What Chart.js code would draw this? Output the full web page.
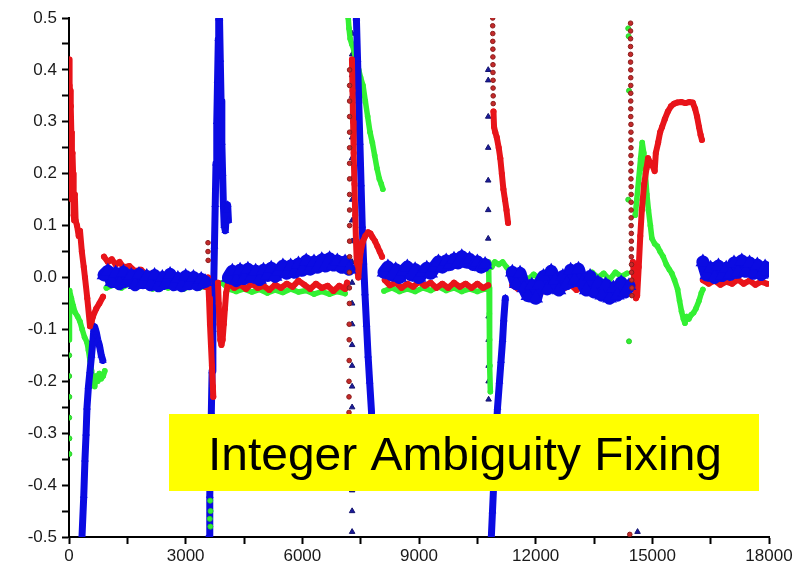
<!DOCTYPE html>
<html>
<head>
<meta charset="utf-8">
<script src="https://cdn.jsdelivr.net/npm/chart.js@4.4.0/dist/chart.umd.min.js"></script>
<style>
  html, body { margin: 0; padding: 0; background: #fff; }
  canvas { display: block; }
</style>
</head>
<body>
<canvas id="ambChart" width="801" height="574"></canvas>
<script>
// Ambiguity residuals (cycles) vs epoch — three satellites

const xTickLabels = [0, 3000, 6000, 9000, 12000, 15000, 18000];
const yTickValues = [-0.5, -0.4, -0.3, -0.2, -0.1, 0, 0.1, 0.2, 0.3, 0.4, 0.5];
const yTickLabels = ['-0.5', '-0.4', '-0.3', '-0.2', '-0.1', '0.0', '0.1', '0.2', '0.3', '0.4', '0.5'];
const boxText = 'Integer Ambiguity Fixing';

// ---- red series ----
const redStart = [[0,0.42],[15,0.37],[30,0.36],[40,0.25],[50,0.33],[60,0.28],[75,0.15],[90,0.24],[105,0.2],[120,0.12],[135,0.11],[150,0.16],[170,0.11],[206,0.1],[250,0.08],[283,0.09],[330,0.05],[380,0.02],[411,0.0],[470,-0.04],[540,-0.094],[580,-0.085],[617,-0.075],[700,-0.06],[780,-0.05],[874,-0.037]];
const redFlat1 = [[900,0.04],[1000,0.03],[1100,0.035],[1200,0.025],[1300,0.03],[1400,0.02],[1550,0.022],[1700,0.012],[1850,0.015],[2000,0.005],[2150,0.008],[2300,0.0],[2450,0.002],[2600,-0.008],[2750,-0.004],[2900,-0.012],[3050,-0.01],[3200,-0.016],[3350,-0.012],[3500,-0.018],[3560,-0.01]];
const redDrop1 = [[3575,0.0],[3600,-0.04],[3625,-0.09],[3650,-0.13],[3675,-0.17],[3700,-0.21],[3710,-0.23]];
const redRise1 = [[3830,-0.01],[3850,-0.05],[3870,-0.09],[3890,-0.12],[3920,-0.13],[3950,-0.12],[3980,-0.09],[4010,-0.06],[4040,-0.03],[4080,-0.015]];
const redFlat2 = [[4100,-0.012],[4250,-0.02],[4400,-0.014],[4550,-0.022],[4700,-0.012],[4850,-0.02],[5000,-0.016],[5150,-0.024],[5300,-0.014],[5450,-0.02],[5600,-0.012],[5750,-0.018],[5900,-0.006],[6050,-0.014],[6200,-0.022],[6350,-0.012],[6500,-0.02],[6650,-0.016],[6800,-0.026],[6950,-0.016],[7100,-0.022],[7150,-0.01]];
const redJump2 = [[7276,0.42],[7290,0.36],[7305,0.3],[7320,0.24],[7340,0.18],[7360,0.12],[7380,0.07],[7400,0.03],[7420,0.01],[7440,0.0],[7470,0.03],[7500,0.05],[7560,0.07],[7620,0.08],[7690,0.087],[7750,0.085],[7800,0.078],[7870,0.07],[7930,0.06],[7990,0.05],[8050,0.04]];
const redFlat3 = [[8120,-0.005],[8250,-0.015],[8400,-0.01],[8550,-0.02],[8700,-0.012],[8850,-0.018],[9000,-0.008],[9150,-0.016],[9300,-0.01],[9450,-0.02],[9600,-0.012],[9750,-0.02],[9900,-0.01],[10050,-0.018],[10200,-0.012],[10350,-0.02],[10500,-0.012],[10650,-0.02],[10780,-0.015]];
const redJump3 = [[10915,0.32],[10930,0.29],[10960,0.28],[11000,0.27],[11050,0.25],[11090,0.23],[11130,0.2],[11170,0.17],[11210,0.15],[11250,0.13],[11290,0.105]];
const redFlat4 = [[11400,-0.015],[11550,-0.022],[11700,-0.012],[11850,-0.025],[12000,-0.018],[12150,-0.028],[12300,-0.016],[12450,-0.022],[12600,-0.012],[12750,-0.02],[12900,-0.014],[13050,-0.024],[13200,-0.016],[13350,-0.022],[13500,-0.015],[13650,-0.025],[13800,-0.018],[13950,-0.026],[14100,-0.02],[14250,-0.028],[14380,-0.02]];
const redJump4 = [[14500,0.03],[14540,-0.01],[14580,-0.04],[14610,-0.035],[14650,0.02],[14690,0.08],[14730,0.13],[14790,0.18],[14850,0.21],[14890,0.23],[14950,0.22],[15010,0.215],[15060,0.205],[15090,0.24],[15150,0.26],[15200,0.28],[15250,0.29],[15320,0.305],[15400,0.32],[15480,0.33],[15560,0.335],[15640,0.337],[15750,0.338],[15850,0.336],[15950,0.338],[16040,0.337],[16100,0.325],[16150,0.31],[16200,0.29],[16240,0.275],[16275,0.265]];
const redFlat5 = [[16300,-0.005],[16450,-0.012],[16600,-0.006],[16750,-0.014],[16900,-0.008],[17050,-0.012],[17200,-0.004],[17350,-0.012],[17500,-0.006],[17650,-0.014],[17800,-0.008],[17950,-0.012]];
// dotted red columns
const redDotsA = [[3574,0.067],[3574,0.05],[3578,0.033]];
const redDotsB = [[7215,0.4],[7215,0.37],[7215,0.34],[7215,0.31],[7215,0.28],[7215,0.25],[7215,0.22],[7215,0.19],[7215,0.16],[7215,0.13],[7215,0.1],[7215,0.07],[7215,0.04],[7210,0.01],[7210,-0.02],[7210,-0.05],[7205,-0.09],[7205,-0.12],[7205,-0.16],[7200,-0.2],[7200,-0.23],[7200,-0.26]];
const redDotsC = [[14440,0.49],[14440,0.475],[14440,0.46],[14440,0.445],[14440,0.43],[14440,0.415],[14445,0.4],[14445,0.385],[14445,0.37],[14445,0.355],[14445,0.34],[14445,0.325],[14445,0.31],[14450,0.295],[14450,0.28],[14450,0.265],[14450,0.25],[14450,0.235],[14450,0.22],[14450,0.205],[14450,0.19],[14455,0.175],[14455,0.16],[14455,0.145],[14455,0.13],[14455,0.115],[14455,0.1],[14460,0.085],[14460,0.07],[14460,0.055],[14460,0.04],[14465,0.025],[14465,0.01],[14470,-0.005],[14475,-0.02],[14475,-0.035],[14420,-0.495]];
const redDotsD = [[10895,0.5],[10895,0.485],[10897,0.47],[10897,0.455],[10900,0.44],[10900,0.425],[10902,0.41],[10902,0.395],[10905,0.38],[10905,0.365],[10908,0.35],[10908,0.335]];

// ---- green series ----
const greenStart = [[5,-0.12],[10,-0.07],[15,-0.025],[60,-0.04],[110,-0.055],[154,-0.067],[220,-0.075],[283,-0.085],[340,-0.1],[400,-0.115],[463,-0.125],[500,-0.14],[540,-0.16],[580,-0.18],[617,-0.2],[660,-0.21],[700,-0.19],[740,-0.2],[780,-0.185],[830,-0.195],[880,-0.19],[920,-0.18]];
const greenFlat1 = [[960,-0.02],[1150,-0.014],[1350,-0.02],[1550,-0.012],[1750,-0.018],[1950,-0.014],[2150,-0.022],[2350,-0.015],[2550,-0.02],[2750,-0.013],[2950,-0.022],[3150,-0.016],[3350,-0.02],[3550,-0.015]];
const greenFlat2 = [[3940,-0.01],[4100,-0.022],[4300,-0.027],[4500,-0.022],[4700,-0.028],[4900,-0.023],[5100,-0.03],[5300,-0.024],[5500,-0.029],[5700,-0.022],[5900,-0.028],[6100,-0.025],[6300,-0.032],[6500,-0.027],[6700,-0.032],[6900,-0.027],[7100,-0.031]];
const greenJump2 = [[7180,0.5],[7200,0.48],[7230,0.46],[7270,0.45],[7320,0.44],[7400,0.41],[7450,0.4],[7500,0.385],[7560,0.37],[7620,0.34],[7680,0.31],[7740,0.28],[7800,0.26],[7860,0.235],[7920,0.21],[7980,0.19],[8030,0.18],[8070,0.17]];
const greenFlat3 = [[8100,-0.026],[8300,-0.02],[8500,-0.027],[8700,-0.022],[8900,-0.027],[9100,-0.02],[9300,-0.025],[9500,-0.018],[9700,-0.025],[9900,-0.02],[10100,-0.027],[10300,-0.022],[10500,-0.027],[10700,-0.022]];
const greenDrop3 = [[10790,0.03],[10800,-0.02],[10810,-0.07],[10815,-0.12],[10825,-0.17],[10835,-0.22]];
const greenFlat4 = [[10870,0.02],[10950,0.03],[11050,0.025],[11150,0.03],[11250,0.02],[11350,0.01],[11500,0.0],[11650,0.008],[11800,-0.004],[11950,0.006],[12100,-0.002],[12250,0.01],[12400,-0.002],[12550,0.006],[12700,0.0],[12850,0.01],[13000,-0.004],[13150,0.006],[13300,-0.002],[13450,0.01],[13600,0.0],[13750,0.008],[13900,-0.004],[14050,0.01],[14200,0.002],[14350,0.008]];
const greenJump4 = [[14560,0.12],[14600,0.15],[14650,0.19],[14700,0.23],[14740,0.26],[14780,0.24],[14820,0.2],[14860,0.16],[14900,0.13],[14950,0.1],[14990,0.075],[15060,0.065],[15130,0.06],[15200,0.05],[15280,0.04],[15360,0.025],[15440,0.015],[15500,0.008],[15570,-0.005],[15650,-0.023],[15700,-0.045],[15750,-0.065],[15800,-0.08],[15840,-0.088],[15880,-0.075],[15940,-0.08],[16000,-0.072],[16060,-0.068],[16120,-0.06],[16200,-0.045],[16260,-0.03],[16300,-0.023]];
const greenDots = [[5,-0.15],[5,-0.19],[8,-0.23],[5,-0.27],[10,-0.31],[10,-0.34],[3630,-0.43],[3640,-0.45],[3620,-0.465],[3635,-0.48],[14380,0.48],[14390,0.465],[14400,0.36],[14380,0.15],[14400,-0.123]];

// ---- blue series ----
const blueStart = [[334,-0.5],[380,-0.42],[411,-0.35],[440,-0.3],[463,-0.25],[500,-0.21],[540,-0.18],[580,-0.15],[617,-0.12],[640,-0.1],[660,-0.095],[700,-0.105],[740,-0.12],[780,-0.13],[830,-0.15],[870,-0.16]];
const blueFlat1 = [[900,0.005],[1000,0.012],[1100,-0.008],[1200,0.008],[1300,-0.012],[1400,0.01],[1500,-0.006],[1600,0.004],[1700,-0.014],[1800,0.006],[1900,-0.01],[2000,0.002],[2100,-0.014],[2200,0.004],[2300,-0.016],[2400,0.0],[2500,-0.01],[2600,0.006],[2700,-0.014],[2800,-0.002],[2900,-0.016],[3000,0.002],[3100,-0.012],[3200,0.0],[3300,-0.014],[3400,-0.004],[3500,-0.008]];
const blueUp1 = [[3600,-0.5],[3620,-0.42],[3640,-0.34],[3660,-0.26],[3680,-0.18],[3700,-0.1],[3720,-0.02],[3740,0.06],[3760,0.14],[3780,0.22],[3800,0.3],[3820,0.38],[3840,0.46],[3850,0.5]];
const blueDown1 = [[3870,0.5],[3890,0.42],[3910,0.34],[3930,0.26],[3950,0.2],[3970,0.14],[3990,0.1],[4020,0.09],[4050,0.13],[4080,0.14],[4100,0.11]];
const blueFlat2 = [[4100,0.0],[4200,0.012],[4300,-0.006],[4400,0.014],[4500,-0.002],[4600,0.016],[4700,0.002],[4800,0.012],[4900,-0.004],[5000,0.014],[5100,0.004],[5200,0.018],[5300,0.002],[5400,0.012],[5500,0.022],[5600,0.008],[5700,0.022],[5800,0.01],[5900,0.026],[6000,0.014],[6100,0.032],[6200,0.016],[6300,0.03],[6400,0.02],[6500,0.034],[6600,0.022],[6700,0.036],[6800,0.024],[6900,0.032],[7000,0.02],[7100,0.03],[7200,0.016]];
const blueDown2 = [[7390,0.5],[7420,0.42],[7450,0.34],[7480,0.26],[7510,0.18],[7540,0.1],[7575,0.03],[7610,-0.03],[7650,-0.09],[7690,-0.15],[7730,-0.2],[7780,-0.26]];
const blueFlat3 = [[8100,0.01],[8200,0.02],[8300,0.005],[8400,0.015],[8500,0.0],[8600,0.012],[8700,0.02],[8800,0.005],[8900,0.015],[9000,0.0],[9100,0.01],[9200,0.018],[9300,0.008],[9400,0.02],[9500,0.03],[9600,0.02],[9700,0.032],[9800,0.025],[9900,0.035],[10000,0.028],[10100,0.04],[10200,0.03],[10300,0.035],[10400,0.025],[10500,0.03],[10600,0.02],[10700,0.025]];
const blueDown3 = [[11220,-0.04],[11180,-0.08],[11150,-0.12],[11110,-0.16],[11070,-0.2],[11020,-0.25],[10980,-0.3],[10950,-0.35],[10920,-0.4],[10890,-0.45],[10860,-0.5]];
const blueFlat4 = [[11400,0.01],[11500,-0.012],[11600,0.008],[11700,-0.02],[11800,-0.035],[11900,-0.015],[12000,-0.04],[12100,-0.012],[12200,0.002],[12300,-0.022],[12400,0.012],[12500,-0.006],[12600,-0.024],[12700,0.002],[12800,-0.012],[12900,0.014],[13000,-0.006],[13100,0.016],[13200,-0.01],[13300,-0.024],[13400,0.002],[13500,-0.028],[13600,-0.01],[13700,-0.034],[13800,-0.014],[13900,-0.04],[14000,-0.02],[14100,-0.034],[14200,-0.01],[14300,-0.028],[14400,-0.016]];
const blueFlat5 = [[16300,0.03],[16400,0.005],[16500,0.018],[16600,0.0],[16700,0.022],[16800,0.004],[16900,0.018],[17000,0.006],[17100,0.028],[17200,0.01],[17300,0.032],[17400,0.012],[17500,0.028],[17600,0.008],[17700,0.024],[17800,0.006],[17900,0.02],[17950,0.012]];
// sparse blue triangles
const blueDots = [
    [7280,-0.49],[7280,-0.45],[7280,-0.41],[7280,-0.37],[7280,-0.33],[7280,-0.29],[7280,-0.25],[7280,-0.21],[7280,-0.17],[7280,-0.13],[7280,-0.09],[7280,-0.05],[7280,-0.01],[7280,0.03],[7280,0.07],[7280,0.11],[7280,0.15],[7280,0.19],[7280,0.23],[7280,0.27],[7280,0.31],[7280,0.35],[7280,0.39],[7280,0.43],[7280,0.47],
    [10780,0.4],[10780,0.38],[10780,0.31],[10780,0.25],[10780,0.187],[10780,0.13],[10780,0.075],[10790,-0.023],[10790,-0.075],[10790,-0.12],[10790,-0.17],[10790,-0.2],[10790,-0.235],
    [14620,-0.49]
];

const RED = '#e8141a';
const GREEN = '#33f033';
const BLUE = '#0b0be2';

function toPoints(...segments) {
    const points = [];
    segments.forEach((seg, i) => {
        if (i > 0) points.push({ x: seg[0][0], y: null });
        seg.forEach(([x, y]) => points.push({ x: x, y: y }));
    });
    return points;
}

function bandDataset(data, color, width, style, radius, order) {
    return {
        data: data,
        showLine: true,
        spanGaps: false,
        borderColor: color,
        borderWidth: width,
        borderJoinStyle: 'round',
        borderCapStyle: 'round',
        pointStyle: style,
        pointRadius: radius,
        pointBackgroundColor: color,
        pointBorderColor: color,
        pointBorderWidth: 0,
        order: order
    };
}

function dotDataset(data, fill, edge, style, radius, order) {
    return {
        data: data,
        showLine: false,
        pointStyle: style,
        pointRadius: radius,
        pointBackgroundColor: fill,
        pointBorderColor: edge,
        pointBorderWidth: 1,
        order: order
    };
}

// yellow label box over the plot
const labelBox = {
    id: 'labelBox',
    afterDatasetsDraw(chart) {
        const ctx = chart.ctx;
        ctx.save();
        ctx.fillStyle = '#ffff00';
        ctx.fillRect(169, 414, 590, 77);
        ctx.font = '46px "Liberation Sans", Arial, sans-serif';
        const w = ctx.measureText(boxText).width;
        ctx.translate(465, 470);
        ctx.scale(514 / w, 1);
        ctx.fillStyle = '#000';
        ctx.textAlign = 'center';
        ctx.textBaseline = 'alphabetic';
        ctx.fillText(boxText, 0, 0);
        ctx.restore();
    }
};

const tickFont = { family: '"Liberation Sans", Arial, sans-serif', size: 17 };

function renderChart() {
    const ctx = document.getElementById('ambChart').getContext('2d');

    const datasets = [
        dotDataset(toPoints(redDotsA, redDotsB, redDotsC, redDotsD), '#c42a2a', '#8a1c1c', 'circle', 2.3, 0),
        dotDataset(toPoints(greenDots), GREEN, '#2bcf2b', 'circle', 2.5, 1),
        bandDataset(toPoints(blueFlat1, blueFlat2, blueFlat3, blueFlat4, blueFlat5), BLUE, 13, 'triangle', 8.5, 2),
        bandDataset(toPoints(redStart, redFlat1, redDrop1, redRise1, redFlat2, redJump2, redFlat3, redJump3, redFlat4, redJump4, redFlat5), RED, 6, 'circle', 3, 3),
        bandDataset(toPoints(blueStart, blueUp1, blueDown1, blueDown2, blueDown3), BLUE, 7, 'triangle', 4.5, 4),
        bandDataset(toPoints(greenStart, greenFlat1, greenFlat2, greenJump2, greenFlat3, greenDrop3, greenFlat4, greenJump4), GREEN, 5.5, 'circle', 2.8, 5),
        dotDataset(toPoints(blueDots), '#1a1a9a', '#14146e', 'triangle', 3.2, 6)
    ];

    new Chart(ctx, {
        type: 'scatter',
        data: { datasets: datasets },
        options: {
            responsive: false,
            animation: false,
            events: [],
            layout: { padding: { top: 18, right: 32, left: 0, bottom: 0 } },
            plugins: { legend: { display: false }, tooltip: { enabled: false } },
            scales: {
                x: {
                    type: 'linear',
                    min: 0,
                    max: 18000,
                    afterFit: (scale) => { scale.height = 37; },
                    ticks: {
                        stepSize: 1500,
                        autoSkip: false,
                        maxRotation: 0,
                        padding: 2,
                        color: '#1a1a1a',
                        font: tickFont,
                        callback: (v) => xTickLabels.includes(v) ? String(v) : ''
                    },
                    grid: { drawOnChartArea: false, drawTicks: true, tickLength: 7, tickWidth: 2, tickColor: '#000' },
                    border: { display: true, color: '#000', width: 2 }
                },
                y: {
                    type: 'linear',
                    min: -0.5,
                    max: 0.5,
                    afterFit: (scale) => { scale.width = 69; },
                    ticks: {
                        stepSize: 0.05,
                        autoSkip: false,
                        padding: 5,
                        color: '#1a1a1a',
                        font: tickFont,
                        callback: (v) => {
                            const i = yTickValues.findIndex(t => Math.abs(t - v) < 1e-6);
                            return i >= 0 ? yTickLabels[i] : '';
                        }
                    },
                    grid: { drawOnChartArea: false, drawTicks: true, tickLength: 7, tickWidth: 2, tickColor: '#000' },
                    border: { display: true, color: '#000', width: 2 }
                }
            }
        },
        plugins: [labelBox]
    });
}

document.addEventListener('DOMContentLoaded', renderChart);
</script>
</body>
</html>
